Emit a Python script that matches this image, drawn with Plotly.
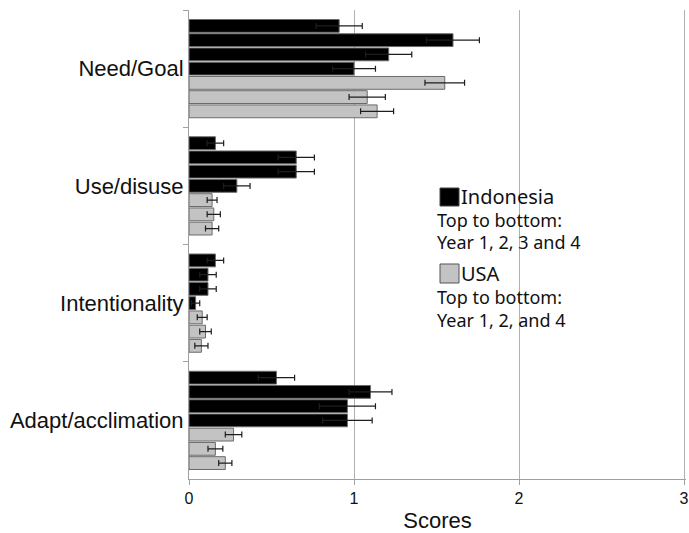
import plotly.graph_objects as go

categories = ["Need/Goal", "Use/disuse", "Intentionality", "Adapt/acclimation"]

# Indonesia Years 1-4
indo_y1 = [0.91, 0.16, 0.16, 0.53]
indo_y2 = [1.60, 0.65, 0.115, 1.10]
indo_y3 = [1.21, 0.65, 0.115, 0.96]
indo_y4 = [1.00, 0.29, 0.04, 0.96]
indo_e1 = [0.14, 0.05, 0.05, 0.11]
indo_e2 = [0.16, 0.11, 0.05, 0.13]
indo_e3 = [0.14, 0.11, 0.05, 0.17]
indo_e4 = [0.13, 0.08, 0.025, 0.15]

# USA Years 1, 2, 4
usa_y1 = [1.55, 0.14, 0.08, 0.27]
usa_y2 = [1.08, 0.15, 0.10, 0.16]
usa_y4 = [1.14, 0.14, 0.075, 0.22]
usa_e1 = [0.12, 0.03, 0.03, 0.05]
usa_e2 = [0.11, 0.04, 0.035, 0.045]
usa_e4 = [0.10, 0.04, 0.04, 0.04]

x_ticks = [0, 1, 2, 3]

series = [
    (indo_y1, indo_e1, "Indonesia Year 1", "#000000"),
    (indo_y2, indo_e2, "Indonesia Year 2", "#000000"),
    (indo_y3, indo_e3, "Indonesia Year 3", "#000000"),
    (indo_y4, indo_e4, "Indonesia Year 4", "#000000"),
    (usa_y1, usa_e1, "USA Year 1", "#c3c3c3"),
    (usa_y2, usa_e2, "USA Year 2", "#c3c3c3"),
    (usa_y4, usa_e4, "USA Year 4", "#c3c3c3"),
]

fig = go.Figure()
for vals, errs, name, color in series:
    fig.add_trace(go.Bar(
        y=categories, x=vals, name=name, orientation="h",
        marker=dict(color=color, line=dict(color="#6a6a6a", width=1)),
        error_x=dict(type="data", array=errs, symmetric=True,
                     color="#1e1e1e", thickness=1.2, width=3),
    ))

fig.update_layout(
    width=689, height=533,
    margin=dict(l=189, r=3, t=10, b=54),
    paper_bgcolor="white", plot_bgcolor="white",
    barmode="group", bargap=0.15, bargroupgap=0.1,
    showlegend=False,
    font=dict(family="Liberation Sans, Arial, sans-serif", color="#000"),
)
fig.update_xaxes(
    range=[0, 3.012], tickvals=x_ticks, ticktext=[str(v) for v in x_ticks],
    showgrid=True, gridcolor="#b0b0b0", gridwidth=1,
    showline=True, linecolor="#a0a0a0", linewidth=1,
    ticks="outside", ticklen=5, tickcolor="#a0a0a0",
    tickfont=dict(size=16, color="#111"), zeroline=False, automargin=False,
    title=dict(text="Scores", font=dict(size=22, color="#111"), standoff=6),
)
fig.update_yaxes(
    autorange="reversed", tickson="boundaries",
    showline=True, linecolor="#a0a0a0", linewidth=1,
    ticks="outside", ticklen=5, tickcolor="#a0a0a0",
    tickfont=dict(size=22, color="#111"), showgrid=False, automargin=False,
)

leg_font = "Noto Sans, Open Sans, sans-serif"
PW = 497.0  # plot width in px
def px_x(x):
    return (x - 189) / PW

fig.add_shape(type="rect", xref="paper", yref="paper",
              x0=px_x(440), x1=px_x(459),
              y0=(479 - 206) / 469, y1=(479 - 188) / 469,
              fillcolor="#000", line=dict(color="#444", width=1))
fig.add_shape(type="rect", xref="paper", yref="paper",
              x0=px_x(440), x1=px_x(459),
              y0=(479 - 283) / 469, y1=(479 - 264) / 469,
              fillcolor="#c3c3c3", line=dict(color="#555", width=1))

def ann(text, x_px, y_px, size):
    fig.add_annotation(text=text, xref="paper", yref="paper",
                       x=px_x(x_px), y=(479 - y_px) / 469,
                       xanchor="left", yanchor="middle", showarrow=False,
                       font=dict(family=leg_font, size=size, color="#111"))

ann("Indonesia", 459, 197, 20)
ann("Top to bottom:", 435, 220, 18)
ann("Year 1, 2, 3 and 4", 435, 242, 18)
ann("USA", 459, 273, 20)
ann("Top to bottom:", 435, 297, 18)
ann("Year 1, 2, and 4", 435, 320, 18)

fig.write_html("out.html",
               config={"displayModeBar": False},
               post_script="document.body.style.margin='0';document.body.style.overflow='hidden';")
